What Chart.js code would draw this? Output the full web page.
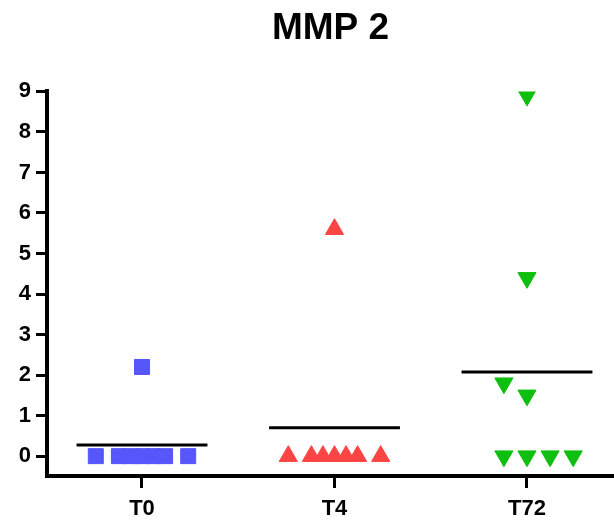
<!DOCTYPE html>
<html>
<head>
<meta charset="utf-8">
<script src="https://cdn.jsdelivr.net/npm/chart.js@4.4.1/dist/chart.umd.min.js"></script>
<style>
  html, body { margin: 0; padding: 0; background: #fff; }
  #chart_box { width: 614px; height: 521px; }
</style>
</head>
<body>
<div id="chart_box"><canvas id="mmp2" width="614" height="521"></canvas></div>
<script>
// values
const categories = ['T0', 'T4', 'T72'];
const t0Values = [2.2, 0, 0, 0, 0, 0, 0, 0];
const t4Values = [5.6, 0, 0, 0, 0, 0, 0, 0];
const t72Values = [8.9, 4.4, 1.8, 1.5, 0, 0, 0, 0];
const yTicks = [0, 1, 2, 3, 4, 5, 6, 7, 8, 9];

const FONT = 'Liberation Sans, Arial, sans-serif';

function mean(arr) {
  return arr.reduce((a, b) => a + b, 0) / arr.length;
}

// spread points with (nearly) equal values side by side, like a dot plot
// big groups: the two outer points go wide, the middle ones get squeezed
function spreadPoints(values, center) {
  let sorted = values.slice().sort((a, b) => b - a);
  let clusters = [];
  sorted.forEach(v => {
    let last = clusters[clusters.length - 1];
    if (last && last[last.length - 1] - v < 0.45) last.push(v);
    else clusters.push([v]);
  });
  let pts = [];
  clusters.forEach(c => {
    let n = c.length;
    if (n > 5) {
      let inner = n - 2;
      c.forEach((v, k) => {
        let off;
        if (k == 0) off = -0.24;
        else if (k == n - 1) off = 0.24;
        else off = (k - 1 - (inner - 1) / 2) * 0.06;
        pts.push({ x: center + off, y: v });
      });
    } else {
      let start = n > 1 ? -1 : 0;
      c.forEach((v, k) => pts.push({ x: center + (start + k) * 0.12, y: v }));
    }
  });
  return pts;
}

function meanLine(values, center) {
  let m = mean(values);
  return [{ x: center - 0.34, y: m }, { x: center + 0.34, y: m }];
}

function renderChart() {
  let groups = [t0Values, t4Values, t72Values];
  let datasets = [
    {
      label: 'T0', data: spreadPoints(t0Values, 0),
      pointStyle: 'rect', pointRadius: 10.6, borderWidth: 1,
      backgroundColor: '#5656fb', borderColor: '#5656fb', showLine: false
    },
    {
      label: 'T4', data: spreadPoints(t4Values, 1),
      pointStyle: 'triangle', pointRadius: 10.5, borderWidth: 1,
      backgroundColor: '#fb4444', borderColor: '#fb4444', showLine: false
    },
    {
      label: 'T72', data: spreadPoints(t72Values, 2),
      pointStyle: 'triangle', rotation: 180, pointRadius: 10.5, borderWidth: 1,
      backgroundColor: '#0fbf0f', borderColor: '#0fbf0f', showLine: false
    }
  ];
  groups.forEach((g, i) => {
    datasets.push({
      label: 'mean ' + categories[i], data: meanLine(g, i),
      showLine: true, borderColor: '#000', borderWidth: 3, pointRadius: 0
    });
  });

  new Chart(document.getElementById('mmp2'), {
    type: 'scatter',
    data: { datasets: datasets },
    options: {
      responsive: false,
      animation: false,
      devicePixelRatio: 1,
      layout: { padding: 0, autoPadding: false },
      plugins: {
        legend: { display: false },
        tooltip: { enabled: false },
        title: {
          display: true, text: 'MMP 2', color: '#000', fullSize: false,
          font: { family: FONT, size: 37, weight: 'bold' },
          padding: { top: 7, bottom: 40 }
        }
      },
      scales: {
        x: {
          type: 'linear', min: -0.4935, max: 2.452,
          afterBuildTicks: s => { s.ticks = categories.map((c, i) => ({ value: i })) },
          afterFit: s => { s.height = 45; s.paddingLeft = 0; s.paddingRight = 0 },
          ticks: {
            callback: v => categories[Math.round(v)],
            color: '#000', padding: 8, maxRotation: 0,
            font: { family: FONT, size: 22, weight: 'bold' }
          },
          grid: { drawOnChartArea: false, tickLength: 12, tickWidth: 3, tickColor: '#000' },
          border: { display: true, color: '#000', width: 4 }
        },
        y: {
          type: 'linear', min: -0.49, max: 9,
          afterBuildTicks: s => { s.ticks = yTicks.map(v => ({ value: v })) },
          afterFit: s => { s.width = 47 },
          ticks: {
            color: '#000', padding: 5,
            font: { family: FONT, size: 22, weight: 'bold' }
          },
          grid: { drawOnChartArea: false, tickLength: 11, tickWidth: 3, tickColor: '#000' },
          border: { display: true, color: '#000', width: 4 }
        }
      }
    }
  });
}

renderChart();
</script>
</body>
</html>
